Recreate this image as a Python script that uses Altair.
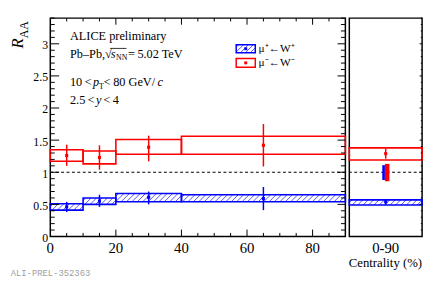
import altair as alt
import numpy as np
import pandas as pd

# ---------------- data ----------------
cent_lo = [0, 10, 20, 40]
cent_hi = [10, 20, 40, 90]
cent_mid = [5, 15, 30, 65]

wm_val = [1.26, 1.23, 1.39, 1.42]
wm_stat_lo = [1.10, 1.04, 1.17, 1.09]
wm_stat_hi = [1.43, 1.42, 1.57, 1.75]
wm_sys_lo = [1.17, 1.13, 1.28, 1.28]
wm_sys_hi = [1.35, 1.33, 1.51, 1.56]

wp_val = [0.46, 0.55, 0.61, 0.59]
wp_stat_lo = [0.38, 0.46, 0.50, 0.41]
wp_stat_hi = [0.54, 0.65, 0.70, 0.77]
wp_sys_lo = [0.41, 0.50, 0.54, 0.54]
wp_sys_hi = [0.51, 0.60, 0.67, 0.65]

int_label = ["0-90"]
int_wm_val = [1.29]
int_wm_stat_lo = [1.21]
int_wm_stat_hi = [1.37]
int_wm_sys_lo = [1.19]
int_wm_sys_hi = [1.38]
int_wp_val = [0.54]
int_wp_stat_lo = [0.50]
int_wp_stat_hi = [0.58]
int_wp_sys_lo = [0.49]
int_wp_sys_hi = [0.57]
norm_wp = [0.88, 1.11]
norm_wm = [0.86, 1.13]

x_tick_labels = [0, 20, 40, 60, 80]
y_tick_labels = [0, 0.5, 1, 1.5, 2, 2.5, 3]

# ---------------- layout / style ----------------
W, H, WR = 300, 222, 74
XMAX, YMAX = 90, 3.4
PXX, PXY, PXR = W / XMAX, H / YMAX, WR / 1.0
RED, BLUE = "#ff0000", "#0000ff"
SERIF = "Liberation Serif"

xs = alt.Scale(domain=[0, XMAX], nice=False, zero=False)
xrs = alt.Scale(domain=[0, 1], nice=False, zero=False)
ys = alt.Scale(domain=[0, YMAX], nice=False, zero=False)


def px2x(px, pxx=PXX):
    return px / pxx


def px2y(py):
    return YMAX - py / PXY


def hatch_px(xl, xr, yt, yb, step=5.5):
    h = yb - yt
    segs = []
    s = xl - h + step / 2.0
    while s < xr:
        x0, x1 = max(s, xl), min(s + h, xr)
        if x1 > x0:
            segs.append((x0, yb - (x0 - s), x1, yb - (x1 - s)))
        s += step
    return segs


def hatch_df(xlo, xhi, ylo, yhi, pxx):
    rows = []
    for a, b, c, d in zip(xlo, xhi, ylo, yhi):
        for (x0, y0, x1, y1) in hatch_px(a * pxx, b * pxx, (YMAX - d) * PXY, (YMAX - c) * PXY):
            rows.append(dict(x=px2x(x0, pxx), x2=px2x(x1, pxx), y=px2y(y0), y2=px2y(y1)))
    return pd.DataFrame(rows)


def series_df(lo, hi, mid, val, slo, shi, ylo, yhi):
    return pd.DataFrame(dict(lo=lo, hi=hi, mid=mid, val=val, slo=slo, shi=shi, ylo=ylo, yhi=yhi))


def series_layers(df, color, sc):
    box = alt.Chart(df).mark_rect(fillOpacity=0, stroke=color, strokeWidth=1.6).encode(
        x=alt.X("lo:Q", scale=sc, axis=None), x2="hi:Q",
        y=alt.Y("ylo:Q", scale=ys, axis=None), y2="yhi:Q")
    err = alt.Chart(df).mark_rule(color=color, strokeWidth=1.5).encode(
        x=alt.X("mid:Q", scale=sc, axis=None),
        y=alt.Y("slo:Q", scale=ys, axis=None),
        y2="shi:Q",
    )
    pt = alt.Chart(df).mark_square(color=color, size=10, opacity=1).encode(
        x=alt.X("mid:Q", scale=sc, axis=None),
        y=alt.Y("val:Q", scale=ys, axis=None),
    )
    return [box, err, pt]


def hatch_layer(hdf, sc):
    return alt.Chart(hdf).mark_rule(color=BLUE, strokeWidth=0.9, opacity=0.75).encode(
        x=alt.X("x:Q", scale=sc, axis=None), x2="x2:Q",
        y=alt.Y("y:Q", scale=ys, axis=None), y2="y2:Q",
    )


def yticks(vals, x0, x1):
    return alt.Chart(pd.DataFrame({"v": vals})).mark_rule(color="black", strokeWidth=1).encode(
        y=alt.Y("v:Q", scale=ys, axis=None), x=alt.value(x0), x2=alt.value(x1))


def xticks(vals, y0, y1, sc):
    return alt.Chart(pd.DataFrame({"v": vals})).mark_rule(color="black", strokeWidth=1).encode(
        x=alt.X("v:Q", scale=sc, axis=None), y=alt.value(y0), y2=alt.value(y1))


def text_df_layer(df, sc=xs, size=12.5, style="normal", font=SERIF, color="black",
                  angle=0, align="left", baseline="alphabetic"):
    return alt.Chart(df).mark_text(align=align, baseline=baseline, font=font, fontSize=size,
                                   fontStyle=style, color=color, angle=angle).encode(
        x=alt.X("x:Q", scale=sc, axis=None), y=alt.Y("y:Q", scale=ys, axis=None), text="t:N")


def text_layer(rows, sc=xs, pxx=PXX, **kw):
    df = pd.DataFrame(dict(t=[r[0] for r in rows],
                           x=[px2x(r[1], pxx) for r in rows],
                           y=[px2y(r[2]) for r in rows]))
    return text_df_layer(df, sc=sc, **kw)


def one_line(px_x0, px_x1, px_y, sc=xs, pxx=PXX, width=0.8):
    df = pd.DataFrame(dict(x=[px2x(px_x0, pxx)], x2=[px2x(px_x1, pxx)], y=[px2y(px_y)]))
    return alt.Chart(df).mark_rule(color="black", strokeWidth=width).encode(
        x=alt.X("x:Q", scale=sc, axis=None), x2="x2:Q", y=alt.Y("y:Q", scale=ys, axis=None))


def fmt(v):
    return ("%g" % v)


# tick positions
y_all = np.round(np.arange(0, 3.4001, 0.1), 2)
y_major = [v for v in y_all if abs(v * 2 - round(v * 2)) < 1e-6]
y_minor = [v for v in y_all if abs(v * 2 - round(v * 2)) >= 1e-6]
x_all = list(range(5, 90, 5))
x_major = [v for v in x_all if v % 20 == 0]
x_minor = [v for v in x_all if v % 20 != 0]

XLAB_BASE = H + 16.5   # label baseline below plot (px)

# ---------------- left panel ----------------
dfm = series_df(cent_lo, cent_hi, cent_mid, wm_val, wm_stat_lo, wm_stat_hi, wm_sys_lo, wm_sys_hi)
dfp = series_df(cent_lo, cent_hi, cent_mid, wp_val, wp_stat_lo, wp_stat_hi, wp_sys_lo, wp_sys_hi)

one_df = pd.DataFrame({"y": [1]})
dash_l = alt.Chart(one_df).mark_rule(color="black", strokeDash=[3, 2.5], strokeWidth=1.2).encode(
    y=alt.Y("y:Q", scale=ys, axis=None))

left_layers = []
left_layers.append(hatch_layer(hatch_df(cent_lo, cent_hi, wp_sys_lo, wp_sys_hi, PXX), xs))
left_layers += series_layers(dfm, RED, xs)
left_layers += series_layers(dfp, BLUE, xs)
left_layers.append(dash_l)
# frame ticks
left_layers += [
    yticks(y_major, 0, 9), yticks(y_minor, 0, 4.5),
    yticks(y_major, W - 8, W), yticks(y_minor, W - 4.5, W),
    xticks(x_major, 0, 6.7, xs), xticks(x_minor, 0, 3.4, xs),
    xticks(x_major, H - 7, H, xs), xticks(x_minor, H - 3.6, H, xs),
]
# tick labels
ylab = pd.DataFrame(dict(t=[fmt(v) for v in y_tick_labels], x=[px2x(-2.3)] * len(y_tick_labels),
                         y=[v - 1.5 / PXY for v in y_tick_labels]))
left_layers.append(text_df_layer(ylab, size=12, align="right", baseline="middle"))
xlab = pd.DataFrame(dict(t=[fmt(v) for v in x_tick_labels], x=x_tick_labels,
                         y=[px2y(XLAB_BASE)] * len(x_tick_labels)))
left_layers.append(text_df_layer(xlab, size=15, align="center"))

# legend (pixel layout relative to plot)
lg_x0, lg_x1 = 189, 208.4
lg1 = (27.0, 35.3)
lg2 = (41.0, 50.0)
leg_box = pd.DataFrame(dict(x=[px2x(lg_x0)] * 2, x2=[px2x(lg_x1)] * 2,
                            y=[px2y(lg1[1]), px2y(lg2[1])], y2=[px2y(lg1[0]), px2y(lg2[0])],
                            c=["p", "m"],
                            cx=[px2x((lg_x0 + lg_x1) / 2)] * 2,
                            cy=[px2y(sum(lg1) / 2), px2y(sum(lg2) / 2)]))
cscale = alt.Scale(domain=["p", "m"], range=[BLUE, RED])
leg_hatch = []
for (x0, y0, x1, y1) in hatch_px(lg_x0, lg_x1, lg1[0], lg1[1], step=5.0):
    leg_hatch.append(dict(x=px2x(x0), x2=px2x(x1), y=px2y(y0), y2=px2y(y1)))
left_layers.append(hatch_layer(pd.DataFrame(leg_hatch), xs))
left_layers.append(alt.Chart(leg_box).mark_rect(fillOpacity=0, strokeWidth=1.5).encode(
    x=alt.X("x:Q", scale=xs, axis=None), x2="x2:Q",
    y=alt.Y("y:Q", scale=ys, axis=None), y2="y2:Q",
    stroke=alt.Color("c:N", scale=cscale, legend=None)))
left_layers.append(alt.Chart(leg_box).mark_square(size=9, opacity=1).encode(
    x=alt.X("cx:Q", scale=xs, axis=None), y=alt.Y("cy:Q", scale=ys, axis=None),
    color=alt.Color("c:N", scale=cscale, legend=None)))
left_layers.append(text_layer([("\u03bc\u207a\u2190W\u207a", 211.7, 34.0),
                               ("\u03bc\u207b\u2190W\u207b", 211.7, 48.5)], size=11.5))

# annotation texts
TS = "\u2009"
left_layers.append(text_layer([
    ("ALICE preliminary", 20, 22.7),
    ("Pb\u2013Pb,", 20, 40.3),
    ("\u221a", 55.5, 40.3),
    ("=" + TS + "5.02 TeV", 79.0, 40.3),
    ("10" + TS + "<", 20, 69.3),
    ("<" + TS + "80 GeV/", 54.4, 69.3),
    ("2.5" + TS + "<", 20, 87.7),
    ("<" + TS + "4", 54.0, 87.7),
]))
left_layers.append(text_layer([("s", 61.5, 40.3), ("p", 43.4, 69.3), ("c", 109.0, 69.3),
                               ("y", 46.5, 87.7)], style="italic"))
left_layers.append(text_layer([("NN", 66.8, 43.0), ("T", 49.6, 72.0)], size=8))
left_layers.append(one_line(61.0, 77.5, 30.8))
# R_AA label
left_layers.append(text_layer([("R", -27.8, 31.0)], size=17, style="italic", angle=270))
left_layers.append(text_layer([("AA", -22.8, 20.5)], size=12, angle=270))
# preliminary id
left_layers.append(text_layer([("ALI-PREL-352363", -40.3, 262.5)], size=9,
                              font="Liberation Mono", color="#a0a0a0"))

left = alt.layer(*left_layers).properties(width=W, height=H)

# ---------------- right panel (integrated) ----------------
dim = series_df([0], [1], [0.5], int_wm_val, int_wm_stat_lo, int_wm_stat_hi, int_wm_sys_lo, int_wm_sys_hi)
dip = series_df([0], [1], [0.5], int_wp_val, int_wp_stat_lo, int_wp_stat_hi, int_wp_sys_lo, int_wp_sys_hi)

norm_df = pd.DataFrame(dict(x=[0.453, 0.489], x2=[0.489, 0.551],
                            y=[norm_wp[0], norm_wm[0]], y2=[norm_wp[1], norm_wm[1]],
                            c=["p", "m"]))

dash_r = alt.Chart(one_df).mark_rule(color="black", strokeDash=[3, 2.5], strokeWidth=1.2).encode(
    y=alt.Y("y:Q", scale=ys, axis=None))

right_layers = [hatch_layer(hatch_df([0], [1], int_wp_sys_lo, int_wp_sys_hi, PXR), xrs)]
right_layers += series_layers(dim, RED, xrs)
right_layers += series_layers(dip, BLUE, xrs)
right_layers.append(dash_r)
right_layers.append(alt.Chart(norm_df).mark_rect(opacity=1).encode(
    x=alt.X("x:Q", scale=xrs, axis=None), x2="x2:Q",
    y=alt.Y("y:Q", scale=ys, axis=None), y2="y2:Q",
    color=alt.Color("c:N", scale=cscale, legend=None)))
right_layers += [yticks(y_major, WR - 2.5, WR), yticks(y_minor, WR - 1.3, WR)]
rlab = pd.DataFrame(dict(t=int_label, x=[0.5], y=[px2y(XLAB_BASE)]))
right_layers.append(text_df_layer(rlab, sc=xrs, size=15, align="center"))
right_layers.append(text_layer([("Centrality (%)", WR, H + 31.5)], sc=xrs, pxx=PXR, size=13,
                               align="right"))

right = alt.layer(*right_layers).properties(width=WR, height=H)

chart = alt.hconcat(left, right, spacing=0).properties(
    padding={"left": 0, "top": 6, "right": 4, "bottom": 0}
).configure_view(stroke="black", strokeWidth=1.5)

chart.save("out.html", embed_options={"renderer": "svg", "actions": False})
